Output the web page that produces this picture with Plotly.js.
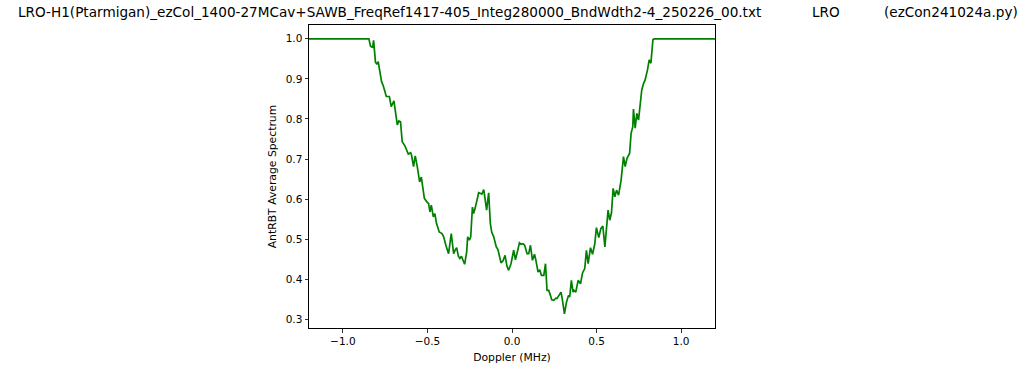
<!DOCTYPE html>
<html>
<head>
<meta charset="utf-8">
<script src="https://cdn.plot.ly/plotly-3.0.1.min.js"></script>
<style>html,body{margin:0;padding:0;background:#fff;}#chart{width:1024px;height:372px;}</style>
</head>
<body>
<div id="chart"></div>
<script>
// Doppler frequency (MHz)
var dopplerMHz = [
  -1.2, -0.846, -0.836, -0.824, -0.818, -0.807, -0.799, -0.791, -0.771, -0.761,
  -0.743, -0.725, -0.714, -0.698, -0.678, -0.669, -0.659, -0.649, -0.633, -0.613,
  -0.599, -0.594, -0.582, -0.572, -0.560, -0.546, -0.536, -0.518, -0.503, -0.493,
  -0.485, -0.477, -0.465, -0.456, -0.446, -0.430, -0.414, -0.404, -0.391, -0.375,
  -0.359, -0.345, -0.335, -0.327, -0.317, -0.308, -0.299, -0.292, -0.280, -0.268,
  -0.262, -0.252, -0.244, -0.234, -0.227, -0.217, -0.207, -0.197, -0.185, -0.178,
  -0.167, -0.157, -0.150, -0.138, -0.128, -0.120, -0.108, -0.093, -0.083, -0.065,
  -0.053, -0.041, -0.030, -0.020, -0.006, 0.010, 0.020, 0.034, 0.044, 0.053,
  0.065, 0.075, 0.089, 0.099, 0.109, 0.121, 0.133, 0.142, 0.154, 0.164,
  0.174, 0.188, 0.198, 0.207, 0.217, 0.227, 0.235, 0.247, 0.259, 0.266,
  0.278, 0.290, 0.300, 0.310, 0.322, 0.334, 0.341, 0.351, 0.361, 0.367,
  0.377, 0.391, 0.405, 0.417, 0.430, 0.440, 0.450, 0.464, 0.476, 0.489,
  0.499, 0.513, 0.525, 0.537, 0.549, 0.559, 0.568, 0.578, 0.588, 0.598,
  0.608, 0.618, 0.630, 0.645, 0.659, 0.669, 0.680, 0.695, 0.704, 0.714,
  0.718, 0.728, 0.738, 0.748, 0.757, 0.767, 0.778, 0.787, 0.801, 0.811,
  0.821, 0.827, 0.833, 0.840, 1.2
];
// AntRBT average spectrum
var antRBT = [
  1.0, 1.0, 0.981, 0.979, 0.996, 0.941, 0.9375, 0.943, 0.893, 0.883,
  0.856, 0.856, 0.831, 0.845, 0.785, 0.795, 0.793, 0.743, 0.733, 0.7125,
  0.716, 0.71, 0.681, 0.708, 0.681, 0.643, 0.655, 0.602, 0.593, 0.589,
  0.568, 0.585, 0.556, 0.564, 0.539, 0.518, 0.514, 0.506, 0.485, 0.464,
  0.514, 0.464, 0.474, 0.479, 0.4575, 0.452, 0.4575, 0.449, 0.4375, 0.468,
  0.506, 0.4975, 0.506, 0.58, 0.564, 0.579, 0.5975, 0.616, 0.614, 0.6125,
  0.624, 0.589, 0.5725, 0.616, 0.539, 0.518, 0.506, 0.481, 0.474, 0.441,
  0.446, 0.46, 0.433, 0.4225, 0.439, 0.4725, 0.449, 0.4725, 0.491, 0.4875,
  0.489, 0.485, 0.464, 0.464, 0.485, 0.4475, 0.4625, 0.446, 0.418, 0.424,
  0.41, 0.41, 0.439, 0.3725, 0.3725, 0.36, 0.349, 0.3475, 0.353, 0.352,
  0.36, 0.368, 0.343, 0.314, 0.343, 0.36, 0.356, 0.3975, 0.368, 0.3725,
  0.368, 0.3975, 0.389, 0.416, 0.427, 0.4725, 0.439, 0.479, 0.4625, 0.4875,
  0.529, 0.504, 0.5265, 0.533, 0.481, 0.539, 0.5725, 0.5475, 0.566, 0.627,
  0.606, 0.6225, 0.61, 0.6475, 0.706, 0.681, 0.702, 0.714, 0.764, 0.781,
  0.825, 0.777, 0.814, 0.7975, 0.843, 0.8725, 0.889, 0.8975, 0.9225, 0.9475,
  0.939, 0.9725, 0.9975, 1.0, 1.0
];
var xTickVals = [-1.0, -0.5, 0.0, 0.5, 1.0];
var yTickVals = [0.3, 0.4, 0.5, 0.6, 0.7, 0.8, 0.9, 1.0];
var titleMain = "LRO-H1(Ptarmigan)_ezCol_1400-27MCav+SAWB_FreqRef1417-405_Integ280000_BndWdth2-4_250226_00.txt";
var titleMid = "LRO";
var titleRight = "(ezCon241024a.py)";

var FONT = "DejaVu Sans, sans-serif";
var plotL = 309, plotR = 715, plotT = 25, plotB = 328;
function px2paperX(px){ return (px - plotL) / (plotR - plotL); }
function py2paperY(py){ return (plotB - py) / (plotB - plotT); }

var trace = {
  x: dopplerMHz, y: antRBT, type: 'scatter', mode: 'lines',
  line: {color: '#008000', width: 1.7}, hoverinfo: 'skip'
};

var axisCommon = {
  showgrid: false, zeroline: false, showline: true, mirror: true,
  linecolor: '#000', linewidth: 1, ticks: 'outside', ticklen: 3.5,
  tickwidth: 0.8, tickcolor: '#000', tickfont: {family: FONT, size: 10.5, color: '#000'},
  tickformat: '.1f', tickmode: 'array'
};

var layout = {
  width: 1024, height: 372,
  margin: {l: plotL, r: 1024 - plotR, t: plotT, b: 372 - plotB},
  paper_bgcolor: '#fff', plot_bgcolor: '#fff',
  showlegend: false,
  font: {family: FONT, color: '#000'},
  xaxis: Object.assign({}, axisCommon, {
    range: [-1.2, 1.2], tickvals: xTickVals,
    title: {text: 'Doppler (MHz)', font: {family: FONT, size: 10.8, color: '#000'}, standoff: 7}
  }),
  yaxis: Object.assign({}, axisCommon, {
    range: [0.2786, 1.0344], tickvals: yTickVals,
    title: {text: 'AntRBT Average Spectrum', font: {family: FONT, size: 10.8, color: '#000'}, standoff: 6}
  }),
  annotations: [
    {text: titleMain, xref: 'paper', yref: 'paper', x: px2paperX(16), y: py2paperY(12),
     xanchor: 'left', yanchor: 'middle', showarrow: false, font: {family: FONT, size: 13.6, color: '#000'}},
    {text: titleMid, xref: 'paper', yref: 'paper', x: px2paperX(810), y: py2paperY(12),
     xanchor: 'left', yanchor: 'middle', showarrow: false, font: {family: FONT, size: 13.6, color: '#000'}},
    {text: titleRight, xref: 'paper', yref: 'paper', x: px2paperX(882), y: py2paperY(12),
     xanchor: 'left', yanchor: 'middle', showarrow: false, font: {family: FONT, size: 13.6, color: '#000'}}
  ]
};

Plotly.newPlot('chart', [trace], layout, {staticPlot: true, displayModeBar: false});
</script>
</body>
</html>
